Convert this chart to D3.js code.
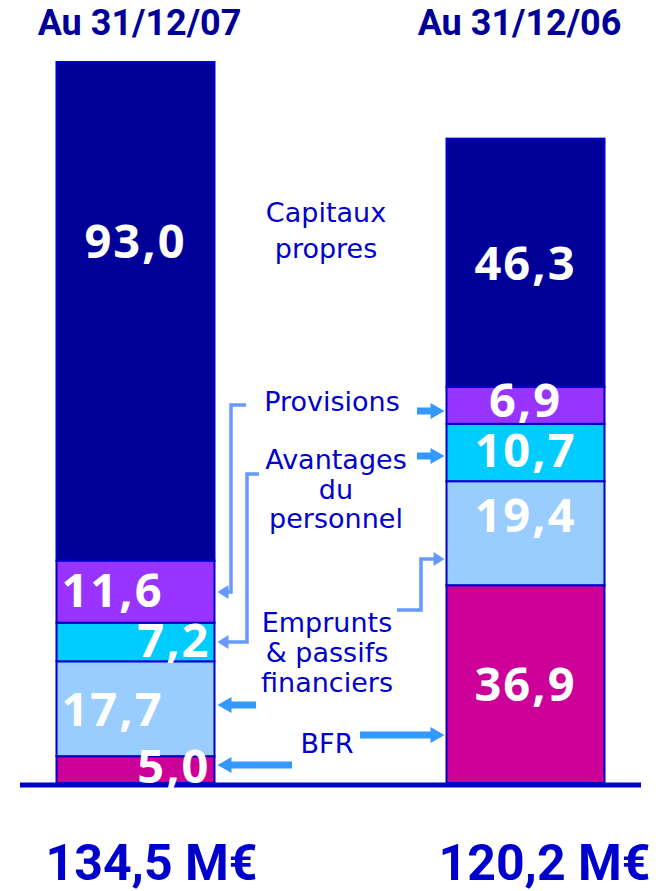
<!DOCTYPE html>
<html lang="fr">
  <head>
    <meta charset="utf-8" />
    <title>Capitaux propres et passifs</title>
    <script src="https://d3js.org/d3.v7.min.js"></script>
    <style>
      body { margin: 0; background: #fff; }
      svg { display: block; }
      .title { font-family: Roboto, sans-serif; font-weight: 700; fill: #000099; }
      .total { font-family: Roboto, sans-serif; font-weight: 700; fill: #0000cc; }
      .cat { font-family: "DejaVu Sans", sans-serif; fill: #0000cc; }
      .val { font-family: "Open Sans", sans-serif; font-weight: 700; fill: #fff; letter-spacing: 2px; }
    </style>
  </head>
  <body>
    <svg id="chart" width="660" height="891"></svg>
    <script>
      // ---- data ----
      const periods = ["Au 31/12/07", "Au 31/12/06"];
      const totals = ["134,5 M€", "120,2 M€"];
      const categories = ["BFR", "Emprunts", "Avantages", "Provisions", "Capitaux"];
      const categoryLabels = [
        ["BFR"],
        ["Emprunts", "& passifs", "financiers"],
        ["Avantages", "du", "personnel"],
        ["Provisions"],
        ["Capitaux", "propres"]
      ];
      const values07 = [5.0, 17.7, 7.2, 11.6, 93.0];
      const values06 = [36.9, 19.4, 10.7, 6.9, 46.3];
      const colors = ["#cc0099", "#99ccff", "#00ccff", "#9933ff", "#000099"];

      // ---- setup ----
      const svg = d3.select("#chart");
      const baseY = 783;
      const barW = 158;

      const x = d3.scalePoint().domain(periods).range([135.5, 525.5]);
      const y = d3.scaleLinear().domain([0, d3.sum(values07)]).range([baseY, 62]);
      const color = d3.scaleOrdinal().domain(categories).range(colors);

      const rows = [values07, values06].map((vals, i) => {
        const r = { period: periods[i] };
        categories.forEach((c, j) => (r[c] = vals[j]));
        return r;
      });
      const series = d3.stack().keys(categories)(rows);

      // ---- bars ----
      const layer = svg.selectAll("g.layer")
        .data(series)
        .join("g")
        .attr("class", "layer")
        .attr("fill", (d) => color(d.key));

      layer.selectAll("rect")
        .data((d) => d)
        .join("rect")
        .attr("x", (d) => x(d.data.period) - barW / 2)
        .attr("y", (d) => y(d[1]))
        .attr("width", barW)
        .attr("height", (d) => y(d[0]) - y(d[1]))
        .attr("stroke", "#0000cc")
        .attr("stroke-width", 2);

      // ---- baseline ----
      svg.append("line")
        .attr("x1", 20).attr("x2", 641)
        .attr("y1", baseY + 2).attr("y2", baseY + 2)
        .attr("stroke", "#0000cc")
        .attr("stroke-width", 5);

      // ---- value labels ----
      // alignment / nudges per bar, per segment (bottom to top)
      const align = [
        ["end", "start", "end", "start", "middle"],
        ["middle", "middle", "middle", "middle", "middle"]
      ];
      const nudge = [
        [-4, 0, -2, -2, -70],
        [0, -18, -3, -5, 0]
      ];
      const fmt = (v) => v.toFixed(1).replace(".", ",");

      series.forEach((s, j) => {
        s.forEach((d, i) => {
          const a = align[i][j];
          const cx = x(d.data.period);
          const tx = a === "start" ? cx - barW / 2 + 5 : a === "end" ? cx + barW / 2 - 4 : cx;
          const mid = (y(d[0]) + y(d[1])) / 2;
          svg.append("text")
            .attr("class", "val")
            .attr("x", tx)
            .attr("y", mid + 17 + nudge[i][j])
            .attr("text-anchor", a)
            .attr("font-size", 47)
            .text(fmt(d[1] - d[0]));
        });
      });

      // ---- titles & totals ----
      svg.selectAll("text.title")
        .data(periods)
        .join("text")
        .attr("class", "title")
        .attr("x", (d, i) => x(d) + (i === 0 ? 4 : -6))
        .attr("y", 35)
        .attr("text-anchor", "middle")
        .attr("font-size", 36)
        .text((d) => d);

      svg.selectAll("text.total")
        .data(totals)
        .join("text")
        .attr("class", "total")
        .attr("x", (d, i) => x(periods[i]) + (i === 0 ? 16 : 19))
        .attr("y", 880)
        .attr("text-anchor", "middle")
        .attr("font-size", 50)
        .text((d) => d);

      // ---- category labels ----
      const catPos = [
        { x: 327, y: 753 },
        { x: 327, y: 632 },
        { x: 336, y: 469 },
        { x: 332, y: 411 },
        { x: 326, y: 222 }
      ];
      const lineGap = [0, 30, 29.5, 0, 36];
      categoryLabels.forEach((lines, i) => {
        const t = svg.append("text")
          .attr("class", "cat")
          .attr("text-anchor", "middle")
          .attr("font-size", 27)
          .attr("x", catPos[i].x)
          .attr("y", catPos[i].y);
        lines.forEach((l, k) => {
          t.append("tspan")
            .attr("x", catPos[i].x)
            .attr("dy", k === 0 ? 0 : lineGap[i])
            .text(l);
        });
      });

      // ---- arrows ----
      const leftEdge = x(periods[0]) + barW / 2 + 3;
      const rightEdge = x(periods[1]) - barW / 2 - 2;

      function fatArrow(x0, x1, yy) {
        // thick straight arrow from x0 to tip x1
        const dir = Math.sign(x1 - x0);
        const hl = 14, hw = 8, sw = 3.5;
        const xb = x1 - dir * hl;
        svg.append("path")
          .attr("d", `M${x0},${yy - sw}L${xb},${yy - sw}L${xb},${yy - hw}L${x1},${yy}` +
            `L${xb},${yy + hw}L${xb},${yy + sw}L${x0},${yy + sw}Z`)
          .attr("fill", "#3399ff");
      }

      function elbow(points) {
        // thin connector ending with an arrow head at the last point
        const n = points.length;
        const [tx, ty] = points[n - 1];
        const dir = Math.sign(tx - points[n - 2][0]);
        const shaft = points.slice(0, -1).concat([[tx - dir * 9, ty]]);
        svg.append("path")
          .attr("d", d3.line()(shaft))
          .attr("fill", "none")
          .attr("stroke", "#6699ff")
          .attr("stroke-width", 3.5);
        svg.append("path")
          .attr("d", `M${tx},${ty}L${tx - dir * 11},${ty - 7}L${tx - dir * 11},${ty + 7}Z`)
          .attr("fill", "#6699ff");
      }

      // left bar
      elbow([[246, 405], [231, 405], [231, 592], [leftEdge, 592]]);
      elbow([[259, 474], [247, 474], [247, 642], [leftEdge, 642]]);
      fatArrow(256, leftEdge, 705);
      fatArrow(292, leftEdge, 765);

      // right bar
      fatArrow(417, rightEdge, 411);
      fatArrow(417, rightEdge, 456);
      elbow([[397, 610], [421, 610], [421, 559], [rightEdge, 559]]);
      fatArrow(360, rightEdge, 735);
    </script>
  </body>
</html>
